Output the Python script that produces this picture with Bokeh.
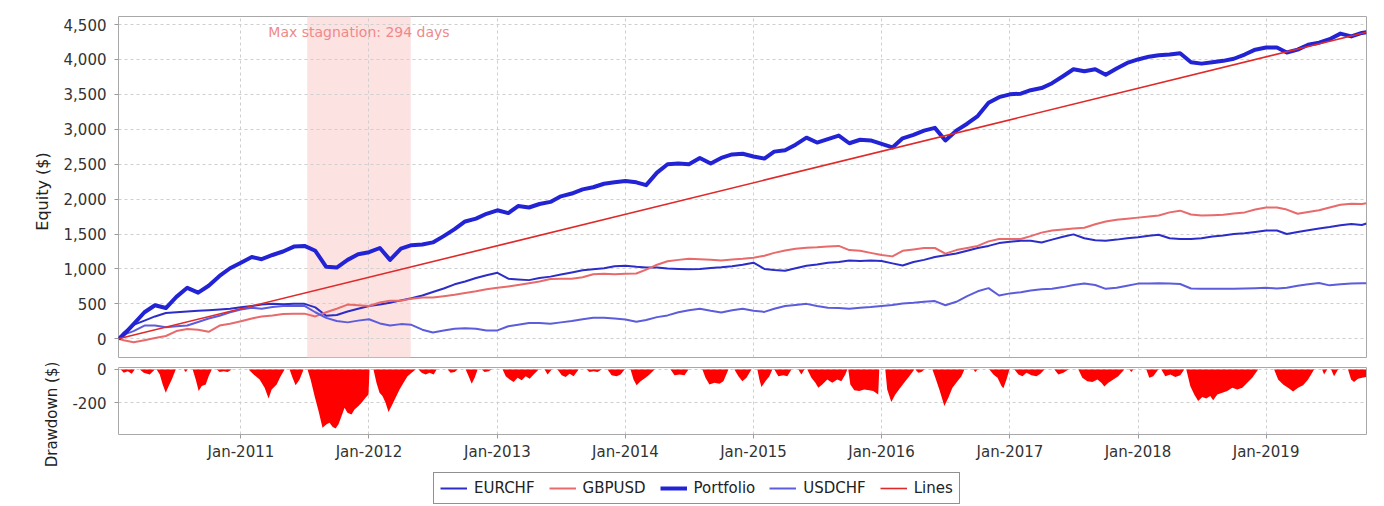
import numpy as np
import pandas as pd
from bokeh.plotting import figure
from bokeh.layouts import column, row
from bokeh.models import (Range1d, FixedTicker, NumeralTickFormatter, DatetimeTickFormatter,
                          BoxAnnotation, Label, Legend, LegendItem, ColumnDataSource)
from bokeh.embed import file_html
from bokeh.resources import INLINE

# ---------------- data ----------------
start_date = "2010-01-17"
end_date = "2019-10-14"
month_starts = pd.date_range("2010-02-01", "2019-10-01", freq="MS")
dates = [pd.Timestamp(start_date)] + list(month_starts) + [pd.Timestamp(end_date)]

portfolio = [0,
    60, 210, 380, 480, 440, 600, 730, 660, 760, 900, 1010,
    1090, 1170, 1140, 1200, 1250, 1320, 1330, 1260, 1030, 1020, 1130, 1210,
    1240, 1300, 1130, 1290, 1340, 1350, 1380, 1470, 1570, 1680, 1720, 1790,
    1840, 1800, 1900, 1880, 1930, 1960, 2040, 2080, 2140, 2170, 2220, 2240,
    2260, 2240, 2200, 2380, 2500, 2510, 2500, 2590, 2510, 2590, 2640, 2650,
    2610, 2580, 2680, 2700, 2780, 2880, 2810, 2860, 2910, 2800, 2850, 2840,
    2790, 2740, 2870, 2920, 2980, 3020, 2840, 2980, 3080, 3190, 3380, 3460,
    3500, 3510, 3560, 3590, 3660, 3760, 3860, 3830, 3860, 3780, 3870, 3950,
    4000, 4040, 4060, 4070, 4090, 3960, 3940, 3960, 3980, 4010, 4070, 4140,
    4170, 4170, 4100, 4140, 4210, 4240, 4290, 4370, 4330, 4380,
    4390]

eurchf = [0,
    90, 200, 260, 320, 370, 380, 390, 400, 410, 420, 430,
    450, 470, 490, 500, 495, 500, 500, 450, 330, 340, 390, 430,
    470, 490, 515, 550, 580, 620, 670, 720, 780, 820, 870, 910,
    945, 860, 850, 840, 870, 890, 920, 950, 980, 995, 1010, 1040,
    1045, 1030, 1020, 1020, 1005, 1000, 995, 1000, 1015, 1025, 1040, 1060,
    1090, 1000, 985, 975, 1010, 1045, 1065, 1090, 1100, 1120, 1115, 1120,
    1115, 1080, 1050, 1100, 1130, 1170, 1195, 1220, 1260, 1300, 1330, 1370,
    1390, 1405, 1405, 1380, 1420, 1460, 1495, 1440, 1410, 1405, 1420, 1440,
    1455, 1475, 1490, 1440, 1430, 1430, 1440, 1465, 1480, 1500, 1510, 1530,
    1550, 1550, 1500, 1530, 1555, 1580, 1600, 1625, 1645, 1630,
    1650]

gbpusd = [0,
    -20, -50, -20, 10, 40, 110, 140, 130, 100, 190, 215,
    250, 290, 320, 335, 355, 360, 360, 320, 380, 430, 490, 480,
    470, 520, 545, 545, 575, 590, 590, 610, 630, 655, 680, 710,
    730, 750, 770, 795, 820, 855, 860, 860, 880, 925, 930, 925,
    930, 935, 990, 1060, 1110, 1130, 1145, 1140, 1130, 1120, 1135, 1145,
    1160, 1190, 1230, 1265, 1290, 1305, 1310, 1320, 1330, 1270, 1260, 1230,
    1200, 1180, 1260, 1280, 1300, 1300, 1220, 1270, 1300, 1330, 1395, 1430,
    1430, 1430, 1470, 1520, 1550, 1565, 1580, 1590, 1640, 1680, 1705, 1720,
    1735, 1750, 1765, 1810, 1835, 1780, 1765, 1770, 1775, 1795, 1810, 1850,
    1880, 1880, 1850, 1790, 1815, 1840, 1880, 1920, 1935, 1930,
    1940]

usdchf = [0,
    60, 110, 190, 190, 165, 180, 190, 240, 290, 330, 380,
    420, 445, 430, 455, 470, 470, 470, 380, 300, 255, 235, 260,
    280, 220, 190, 210, 200, 130, 90, 120, 145, 150, 145, 120,
    120, 180, 200, 225, 225, 215, 235, 255, 280, 300, 300, 290,
    275, 245, 270, 310, 335, 380, 410, 430, 400, 375, 410, 430,
    400, 385, 430, 470, 485, 500, 470, 445, 440, 430, 445, 455,
    470, 485, 505, 515, 530, 540, 480, 530, 610, 680, 725, 620,
    650, 665, 690, 710, 715, 740, 770, 790, 770, 715, 730, 760,
    790, 790, 795, 790, 785, 720, 715, 715, 715, 715, 720, 725,
    730, 720, 730, 760, 780, 800, 765, 780, 790, 795,
    795]

lines_dates = [start_date, end_date]
lines_values = [0, 4390]

# drawdown episodes: decimal years and values ($)
dd_years = [2010.046,
    2010.062, 2010.085, 2010.116, 2010.147, 2010.171,
    2010.210, 2010.241, 2010.288, 2010.327,
    2010.342, 2010.366, 2010.389, 2010.413, 2010.436, 2010.460, 2010.491,
    2010.553, 2010.569, 2010.584,
    2010.623, 2010.647, 2010.670, 2010.694, 2010.725, 2010.748, 2010.772,
    2010.811, 2010.834, 2010.865, 2010.896, 2010.928,
    2011.060, 2011.099, 2011.146, 2011.185, 2011.216, 2011.240, 2011.279, 2011.310, 2011.341,
    2011.380, 2011.403, 2011.427, 2011.458, 2011.489,
    2011.520, 2011.544, 2011.575, 2011.606, 2011.637, 2011.669, 2011.692, 2011.715, 2011.739, 2011.762,
    2011.786, 2011.809, 2011.832, 2011.863, 2011.887, 2011.918, 2011.942, 2011.973, 2011.996, 2012.004,
    2012.035, 2012.058, 2012.082, 2012.105, 2012.129, 2012.152, 2012.176, 2012.207, 2012.238, 2012.269,
    2012.300, 2012.332, 2012.363,
    2012.386, 2012.410, 2012.441, 2012.472, 2012.503, 2012.527,
    2012.612, 2012.636, 2012.667, 2012.690,
    2012.753, 2012.776, 2012.800, 2012.823, 2012.846,
    2012.878, 2012.901, 2012.932, 2012.956,
    2013.041, 2013.065, 2013.096, 2013.127, 2013.158, 2013.190, 2013.221, 2013.252, 2013.283, 2013.322,
    2013.369, 2013.392, 2013.424,
    2013.470, 2013.502, 2013.533, 2013.564, 2013.595, 2013.634,
    2013.697, 2013.720, 2013.751, 2013.782, 2013.814,
    2013.860, 2013.892, 2013.931, 2013.962, 2013.993,
    2014.040, 2014.063, 2014.087, 2014.118, 2014.157, 2014.188, 2014.227,
    2014.352, 2014.383, 2014.422, 2014.461, 2014.492,
    2014.601, 2014.625, 2014.656, 2014.695, 2014.734, 2014.765, 2014.804,
    2014.851, 2014.882, 2014.913, 2014.945, 2014.984,
    2015.030, 2015.046, 2015.062, 2015.093, 2015.124, 2015.147,
    2015.163, 2015.194, 2015.233, 2015.264, 2015.296,
    2015.350, 2015.374, 2015.397,
    2015.420, 2015.452, 2015.483, 2015.506, 2015.537, 2015.576, 2015.615, 2015.654, 2015.686, 2015.717, 2015.732,
    2015.740, 2015.756, 2015.787, 2015.826, 2015.865, 2015.904, 2015.935, 2015.974, 2015.982,
    2016.029, 2016.044, 2016.076, 2016.107, 2016.146, 2016.185, 2016.216, 2016.255,
    2016.263, 2016.286, 2016.310, 2016.333,
    2016.396, 2016.419, 2016.450, 2016.489, 2016.520, 2016.552, 2016.591, 2016.622, 2016.645,
    2016.715, 2016.731, 2016.747,
    2016.840, 2016.871, 2016.903, 2016.934, 2016.949, 2016.973, 2016.996,
    2017.035, 2017.066, 2017.098, 2017.129, 2017.168, 2017.207, 2017.238, 2017.269,
    2017.347, 2017.378, 2017.417, 2017.456,
    2017.534, 2017.565, 2017.604, 2017.644, 2017.683, 2017.714, 2017.737, 2017.768, 2017.807, 2017.846, 2017.893,
    2017.932, 2017.948, 2017.963,
    2018.065, 2018.088, 2018.119, 2018.158,
    2018.182, 2018.213, 2018.252, 2018.291, 2018.330, 2018.361,
    2018.377, 2018.408, 2018.439, 2018.470, 2018.502, 2018.533, 2018.564, 2018.587, 2018.619,
    2018.658, 2018.697, 2018.736, 2018.775, 2018.814, 2018.853, 2018.892, 2018.938,
    2019.063, 2019.094, 2019.133, 2019.172, 2019.211, 2019.250, 2019.289, 2019.328, 2019.375,
    2019.438, 2019.453, 2019.477,
    2019.508, 2019.531, 2019.562,
    2019.640, 2019.664, 2019.687, 2019.718, 2019.750, 2019.781]

dd_values = [0,
    0, -20, -10, -25, 0,
    0, -20, -30, 0,
    0, -30, -90, -140, -100, -60, 0,
    0, -15, 0,
    0, -60, -130, -100, -90, -40, 0,
    0, -15, -10, -15, 0,
    0, -30, -60, -110, -175, -120, -90, -40, 0,
    0, -50, -95, -60, 0,
    0, -60, -160, -250, -350, -330, -320, -345, -355, -330,
    -280, -230, -260, -270, -240, -220, -200, -170, -150, 0,
    0, -80, -140, -160, -200, -255, -220, -170, -120, -80,
    -40, -20, 0,
    0, -20, -30, -20, -30, 0,
    0, -20, -15, 0,
    0, -40, -85, -50, 0,
    0, -15, -10, 0,
    0, -40, -60, -75, -50, -65, -40, -55, -30, 0,
    0, -30, 0,
    0, -35, -45, -25, -40, 0,
    0, -15, -10, -15, 0,
    0, -35, -40, -30, 0,
    0, -60, -95, -70, -50, -30, 0,
    0, -35, -30, -35, 0,
    0, -50, -90, -80, -85, -70, 0,
    0, -40, -70, -50, 0,
    0, -60, -105, -70, -40, 0,
    0, -40, -35, -40, 0,
    0, -30, 0,
    0, -50, -80, -110, -90, -60, -80, -60, -70, -30, 0,
    0, -90, -125, -130, -120, -125, -130, -150, 0,
    0, -120, -195, -150, -110, -70, -40, 0,
    0, -20, -15, 0,
    0, -50, -120, -220, -170, -110, -70, -40, 0,
    0, -15, 0,
    0, -30, -50, -100, -113, -60, 0,
    0, -30, -40, -20, -35, -40, -25, 0,
    0, -30, -20, 0,
    0, -50, -70, -75, -60, -80, -103, -80, -60, -40, 0,
    0, -15, 0,
    0, -50, -40, 0,
    0, -40, -30, -45, -35, 0,
    0, -100, -150, -190, -165, -175, -160, -185, -150,
    -140, -130, -110, -120, -110, -80, -50, 0,
    0, -60, -90, -110, -132, -110, -95, -60, 0,
    0, -30, 0,
    0, -40, 0,
    0, -60, -75, -55, -50, -45]

year_ticks = ["2011-01-01", "2012-01-01", "2013-01-01", "2014-01-01", "2015-01-01",
              "2016-01-01", "2017-01-01", "2018-01-01", "2019-01-01"]
equity_ticks = [0, 500, 1000, 1500, 2000, 2500, 3000, 3500, 4000, 4500]
dd_ticks = [-200, 0]

stagnation_start = "2011-07-09"
stagnation_end = "2012-04-29"
stagnation_text = "Max stagnation: 294 days"
equity_title = "Equity ($)"
drawdown_title = "Drawdown ($)"

series_names = ["EURCHF", "GBPUSD", "Portfolio", "USDCHF", "Lines"]

# ---------------- helpers ----------------
def year_to_ts(y):
    yr = int(np.floor(y))
    s = pd.Timestamp(year=yr, month=1, day=1)
    e = pd.Timestamp(year=yr + 1, month=1, day=1)
    return s + (e - s) * (y - yr)

dd_dates = [year_to_ts(y) for y in dd_years]

FONT = "DejaVu Sans"
GRID = "#cfcfcf"
OUTLINE = "#a8a8a8"

colors = {
    "EURCHF": "#2c2cc8",
    "GBPUSD": "#e86a6a",
    "Portfolio": "#2323d6",
    "USDCHF": "#5c5cdc",
    "Lines": "#e02a2a",
}
widths = {"EURCHF": 2, "GBPUSD": 2, "Portfolio": 4, "USDCHF": 2, "Lines": 1.6}

LEFT_W = 60          # width of the axis-title strip
MAIN_W = 1318        # width of the chart column
TOTAL_H = 505
x_range = Range1d(start=pd.Timestamp("2010-01-17"), end=pd.Timestamp("2019-10-14 06:00"))
tick_ms = [pd.Timestamp(t).value // 10**6 for t in year_ticks]


def style(p):
    p.background_fill_color = "white"
    p.border_fill_color = "white"
    p.outline_line_color = OUTLINE
    p.outline_line_width = 1
    for g in (p.xgrid, p.ygrid):
        g.grid_line_color = GRID
        g.grid_line_dash = "3 3"
        g.grid_line_width = 1
    for ax in p.axis:
        ax.axis_line_color = None
        ax.major_tick_line_color = "#999999"
        ax.major_tick_out = 4
        ax.major_tick_in = 0
        ax.minor_tick_line_color = None
        ax.major_label_text_font = FONT
        ax.major_label_text_font_size = "15px"
        ax.major_label_text_color = "#333333"


# ---------------- equity figure ----------------
p1 = figure(width=MAIN_W, height=358, x_axis_type="datetime", x_range=x_range,
            y_range=Range1d(-268, 4615), output_backend="svg", toolbar_location=None,
            min_border_left=57, min_border_right=12, min_border_top=16, min_border_bottom=1)
style(p1)
p1.xaxis.visible = False
p1.xaxis.ticker = FixedTicker(ticks=tick_ms)
p1.xgrid.ticker = FixedTicker(ticks=tick_ms)
p1.yaxis.ticker = FixedTicker(ticks=equity_ticks)
p1.yaxis.formatter = NumeralTickFormatter(format="0,0")
p1.yaxis.major_label_standoff = 8

band = BoxAnnotation(left=pd.Timestamp(stagnation_start), right=pd.Timestamp(stagnation_end),
                     fill_color="#fde2e2", fill_alpha=1.0, line_color=None, level="image")
p1.add_layout(band)

src = ColumnDataSource(dict(date=dates, EURCHF=eurchf, GBPUSD=gbpusd,
                            Portfolio=portfolio, USDCHF=usdchf))
for name in ["EURCHF", "GBPUSD", "USDCHF", "Portfolio"]:
    p1.line(x="date", y=name, source=src, line_color=colors[name], line_width=widths[name],
            line_join="round")
p1.line(x=[pd.Timestamp(d) for d in lines_dates], y=lines_values,
        line_color=colors["Lines"], line_width=widths["Lines"])

mid = pd.Timestamp(stagnation_start) + (pd.Timestamp(stagnation_end) - pd.Timestamp(stagnation_start)) / 2
p1.add_layout(Label(x=mid, y=334, y_units="screen", text=stagnation_text,
                    text_align="center", text_baseline="top", text_font=FONT,
                    text_font_size="14px", text_color="#ee8a8a"))

# ---------------- drawdown figure ----------------
p2 = figure(width=MAIN_W, height=105, x_axis_type="datetime", x_range=x_range,
            y_range=Range1d(-391, 12), output_backend="svg", toolbar_location=None,
            min_border_left=57, min_border_right=12, min_border_top=9, min_border_bottom=27)
style(p2)
p2.xaxis.ticker = FixedTicker(ticks=tick_ms)
p2.xgrid.ticker = FixedTicker(ticks=tick_ms)
p2.xaxis.formatter = DatetimeTickFormatter(years="%b-%Y", months="%b-%Y", days="%b-%Y",
                                           hours="%b-%Y", minutes="%b-%Y")
p2.xaxis.major_label_standoff = 4
p2.yaxis.ticker = FixedTicker(ticks=dd_ticks)
p2.yaxis.formatter = NumeralTickFormatter(format="0,0")
p2.yaxis.major_label_standoff = 8

p2.varea(x=dd_dates, y1=0, y2=dd_values, fill_color="#ff0000", fill_alpha=1.0)

# ---------------- legend strip ----------------
p3 = figure(width=MAIN_W, height=TOTAL_H - 358 - 105, x_range=Range1d(0, 1), y_range=Range1d(0, 1),
            output_backend="svg", toolbar_location=None,
            x_axis_location=None, y_axis_location=None, min_border=0)
p3.xgrid.visible = False
p3.ygrid.visible = False
p3.outline_line_color = None
p3.background_fill_color = "white"
p3.border_fill_color = "white"
items = []
for name in series_names:
    r = p3.line(x=[-5, -4], y=[-5, -4], line_color=colors[name], line_width=widths[name])
    items.append(LegendItem(label=name, renderers=[r]))
legend = Legend(items=items, orientation="horizontal", location=(315, 1),
                border_line_color="#222222", border_line_width=1,
                background_fill_color="white", background_fill_alpha=1.0,
                label_text_font=FONT, label_text_font_size="15px", label_text_color="#222222",
                glyph_width=27, glyph_height=14, label_standoff=7, spacing=14,
                padding=6, margin=0, label_height=18)
p3.add_layout(legend)

# ---------------- axis-title strip ----------------
pt = figure(width=LEFT_W, height=TOTAL_H, x_range=Range1d(0, LEFT_W), y_range=Range1d(0, TOTAL_H),
            output_backend="svg", toolbar_location=None,
            x_axis_location=None, y_axis_location=None, min_border=0)
pt.xgrid.visible = False
pt.ygrid.visible = False
pt.outline_line_color = None
pt.background_fill_color = "white"
pt.border_fill_color = "white"
pt.add_layout(Label(x=42, y=TOTAL_H - 191, x_units="screen", y_units="screen", text=equity_title,
                    angle=np.pi / 2, text_align="center", text_baseline="middle",
                    text_font=FONT, text_font_size="16px", text_color="#222222"))
pt.add_layout(Label(x=51, y=TOTAL_H - 414, x_units="screen", y_units="screen", text=drawdown_title,
                    angle=np.pi / 2, text_align="center", text_baseline="middle",
                    text_font=FONT, text_font_size="15px", text_color="#222222"))

layout = row(pt, column(p1, p2, p3, spacing=0), spacing=0)
open("out.html", "w").write(file_html(layout, INLINE))
